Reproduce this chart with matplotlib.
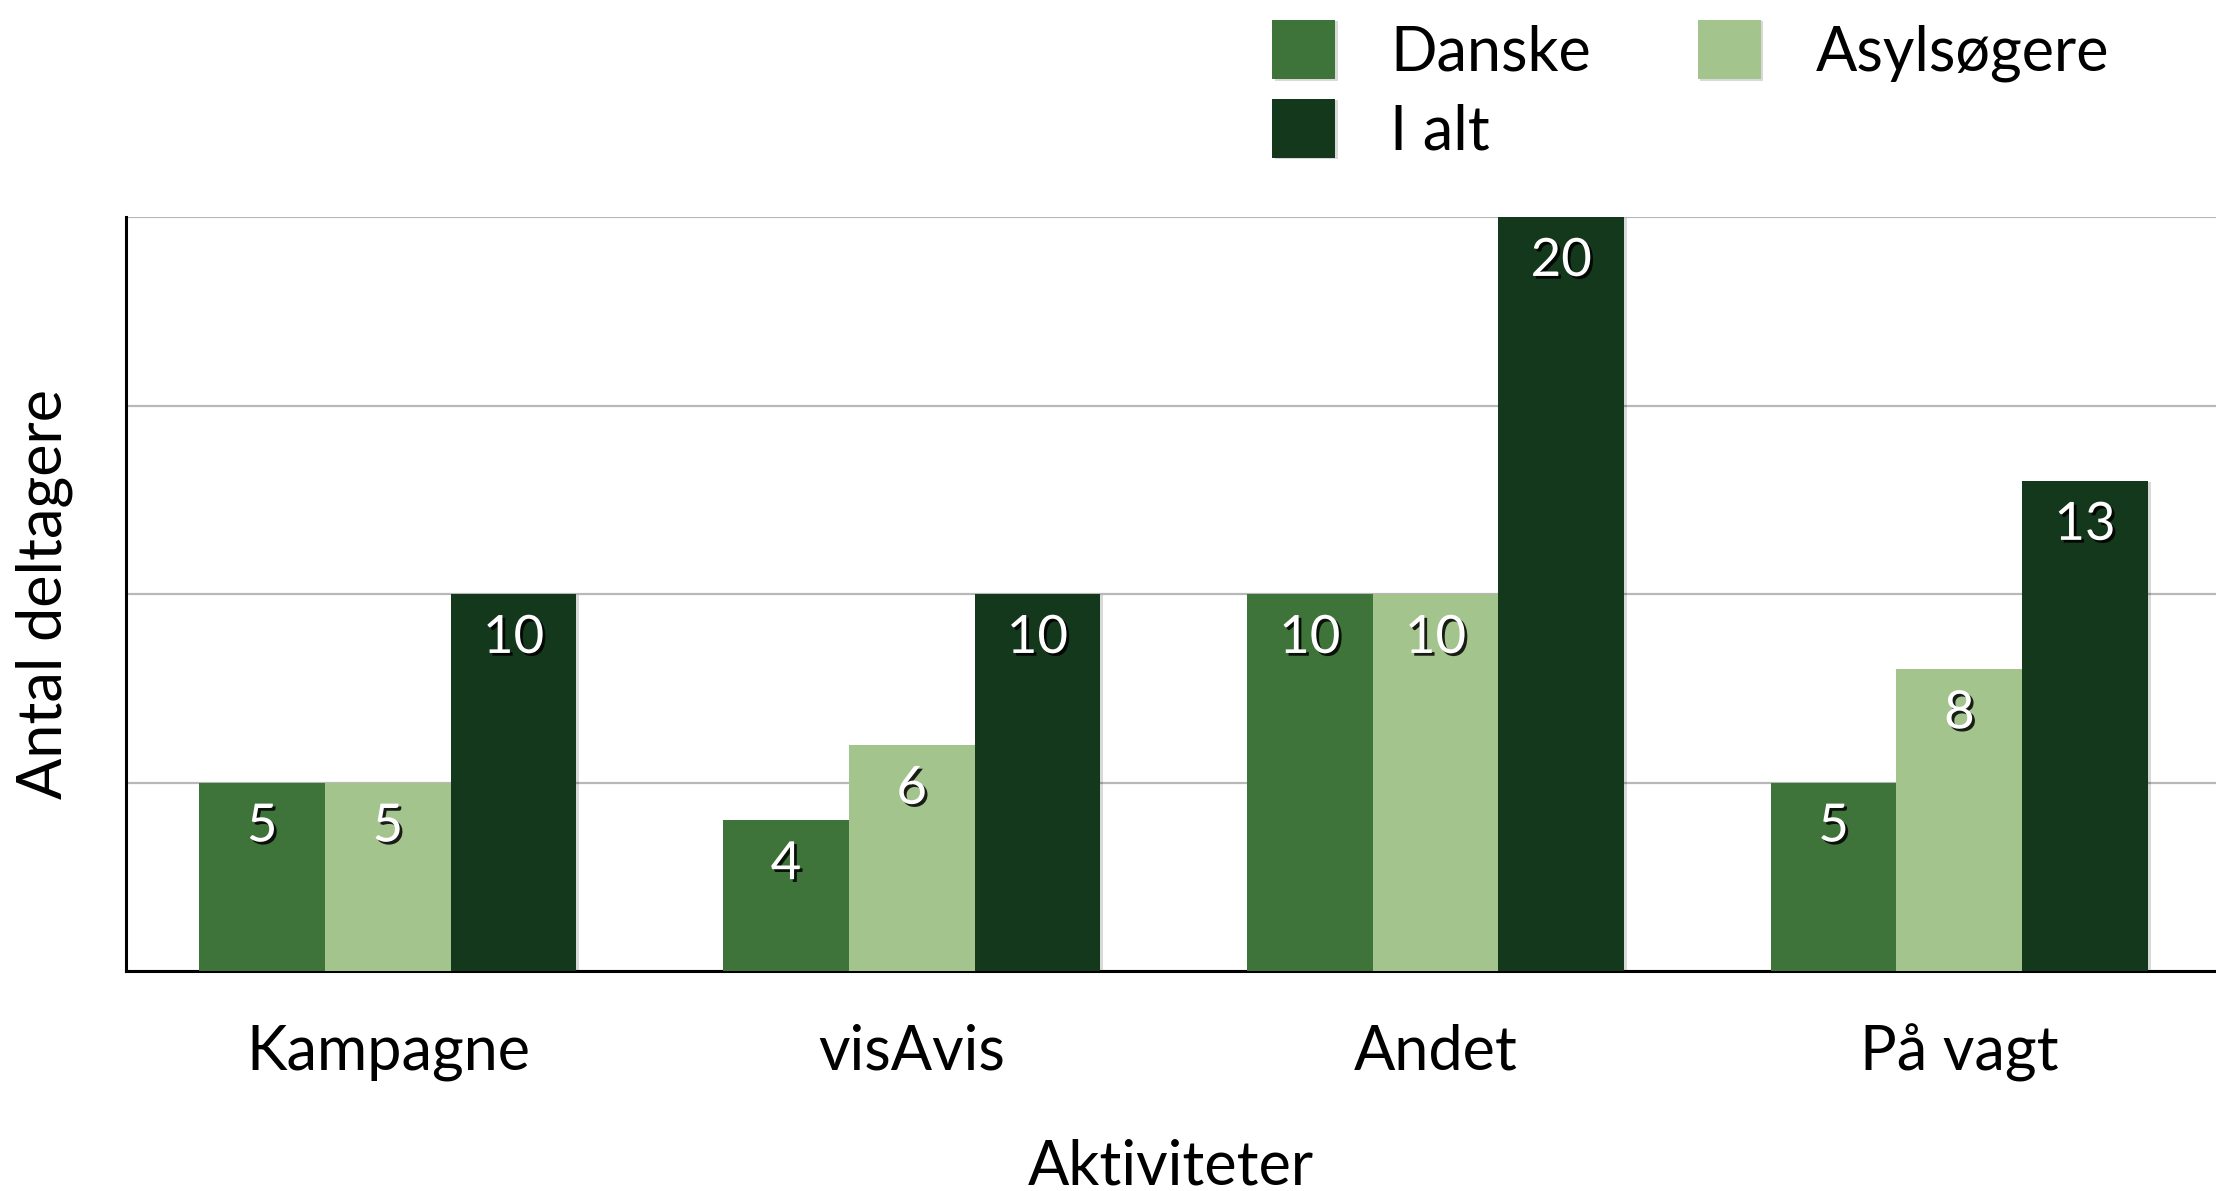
import matplotlib

matplotlib.use("Agg")

import matplotlib.pyplot as plt  # noqa: E402
import matplotlib.patheffects as pe  # noqa: E402
import numpy as np  # noqa: E402

plt.rcParams["font.family"] = ["Lato", "DejaVu Sans"]

# data
categories = ["Kampagne", "visAvis", "Andet", "På vagt"]
danske = [5, 4, 10, 5]
asylsogere = [5, 6, 10, 8]
i_alt = [10, 10, 20, 13]

series = [
    ("Danske", danske, "#3e7439"),
    ("Asylsøgere", asylsogere, "#a3c48c"),
    ("I alt", i_alt, "#14381c"),
]

W, H = 2216, 1191
fig = plt.figure(figsize=(W / 100, H / 100), dpi=100)
ax = fig.add_axes([126 / W, 1 - 971 / H, 1 - 126 / W, (971 - 217) / H])

x = np.arange(len(categories))
width = 0.24
bar_shadow = [pe.SimplePatchShadow(offset=(2, -1), shadow_rgbFace="black", alpha=0.15), pe.Normal()]
text_shadow = [pe.withSimplePatchShadow(offset=(2, -2), shadow_rgbFace="black", alpha=0.85)]

handles = {}
for i, (name, vals, color) in enumerate(series):
    bars = ax.bar(x + (i - 1) * width, vals, width, color=color, label=name, zorder=3)
    for b in bars:
        b.set_path_effects(bar_shadow)
    handles[name] = bars
    for xi, v in zip(x + (i - 1) * width, vals):
        t = ax.annotate(str(v), (xi, v), xytext=(0, -32), textcoords="offset points",
                        ha="center", va="center", color="white", fontsize=38, zorder=5)
        t.set_path_effects(text_shadow)

ax.set_xlim(-0.5, 3.49)
ax.set_ylim(0, 20)
ax.set_yticks([0, 5, 10, 15, 20])
ax.set_yticklabels([])
ax.yaxis.grid(True, color="#b8b8b8", linewidth=1.6, zorder=0)
ax.set_axisbelow(True)
ax.tick_params(axis="both", length=0)
ax.set_xticks(x)
ax.set_xticklabels(categories, fontsize=44)
ax.tick_params(axis="x", pad=38)

for side in ("top", "right"):
    ax.spines[side].set_visible(False)
for side in ("left", "bottom"):
    ax.spines[side].set_linewidth(2.2)
    ax.spines[side].set_color("black")

ax.set_ylabel("Antal deltagere", fontsize=44)
ax.yaxis.set_label_coords(-0.0255, 0.5)
ax.set_xlabel("Aktiviteter", fontsize=44)
ax.xaxis.set_label_coords(0.5, -0.222)

order = ["Danske", "I alt", "Asylsøgere"]
fig.legend([handles[n] for n in order], order, loc="upper left",
           bbox_to_anchor=(1272 / W, 1 - 20 / H), ncol=2, frameon=False,
           fontsize=44, borderpad=0, borderaxespad=0, handlelength=1.03,
           handleheight=1.12, handletextpad=0.9, columnspacing=1.75, labelspacing=0.28)

fig.savefig("out.png", dpi=100, facecolor="white")
plt.close(fig)
